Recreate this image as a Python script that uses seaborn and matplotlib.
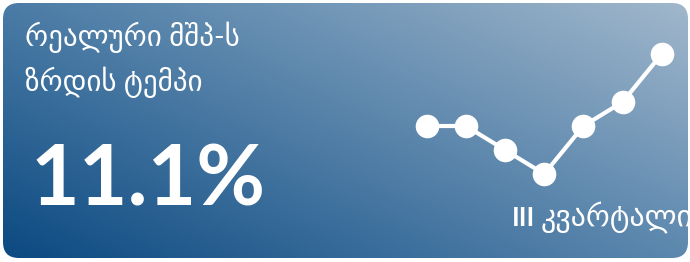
import numpy as np
import seaborn as sns
import matplotlib.pyplot as plt
from matplotlib.patches import FancyBboxPatch

# Card texts
title_lines = ["რეალური მშპ-ს", "ზრდის ტემპი"]
value_label = "11.1%"
period_roman = "III"
period_word = "კვარტალი"

# Sparkline data (7 quarters)
quarters = [1, 2, 3, 4, 5, 6, 7]
growth = [2, 2, 1, 0, 2, 3, 5]

# Gradient corner colours (top-left, top-right, bottom-left, bottom-right)
c_tl = np.array([75, 124, 166]) / 255
c_tr = np.array([162, 184, 204]) / 255
c_bl = np.array([10, 72, 128]) / 255
c_br = np.array([91, 135, 174]) / 255

W, H = 690, 262
PX = 0.72  # px -> pt at 100 dpi

fig = plt.figure(figsize=(W / 100, H / 100), dpi=100)
bg = fig.add_axes([0, 0, 1, 1])
bg.set_xlim(0, W)
bg.set_ylim(H, 0)
bg.axis("off")

# rounded card
card = FancyBboxPatch((3, 3), 685, 255, boxstyle="round,pad=0,rounding_size=16",
                      facecolor="none", edgecolor="none")
bg.add_patch(card)

# diagonal gradient fill
u = np.linspace(0, 1, W)[None, :, None]
v = np.linspace(0, 1, H)[:, None, None]
rgb = (c_tl * (1 - u) * (1 - v) + c_tr * u * (1 - v)
       + c_bl * (1 - u) * v + c_br * u * v)
img = bg.imshow(np.clip(rgb, 0, 1), extent=(0, W, H, 0), aspect="auto")
img.set_clip_path(card)
bg.set_xlim(0, W)
bg.set_ylim(H, 0)

fam = ["Lato", "DejaVu Sans"]
for i, line in enumerate(title_lines):
    bg.text(25, 46 + i * 45, line, color="white", fontsize=29 * PX,
            family=fam, va="baseline")

bg.text(30, 205, value_label, color="white", fontsize=84 * PX,
        family=fam, fontweight="bold", va="baseline")

bg.text(512, 226, period_roman, color="white", fontsize=26 * PX,
        family=fam, fontweight="bold", va="baseline")
t2 = bg.text(541, 226, period_word, color="white", fontsize=30 * PX,
             family=fam, va="baseline")
t2.set_clip_path(card)

# sparkline
ax = fig.add_axes([426.7 / W, (H - 174) / H, 235 / W, 120 / H])
sns.lineplot(x=quarters, y=growth, ax=ax, color="white", linewidth=3,
             marker="o", markersize=17, markeredgewidth=0, clip_on=False)
ax.set_xlim(1, 7)
ax.set_ylim(0, 5)
ax.axis("off")

fig.savefig("out.png", dpi=100)
